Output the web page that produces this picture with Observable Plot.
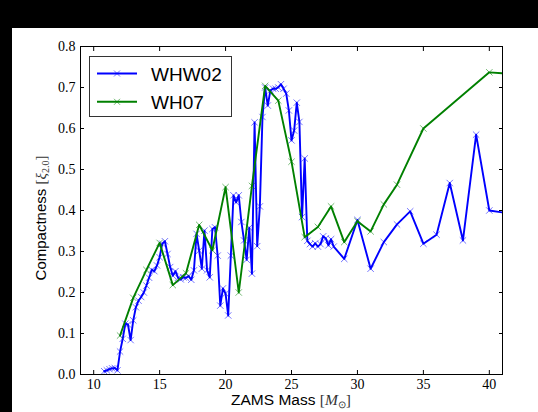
<!DOCTYPE html>
<html><head><meta charset="utf-8">
<script src="https://cdn.jsdelivr.net/npm/d3@7"></script>
<script src="https://cdn.jsdelivr.net/npm/@observablehq/plot@0.6"></script>
<style>
html,body{margin:0;padding:0;background:#000;}
#chart{position:absolute;left:0;top:0;}
</style></head><body><div id="chart"></div>
<script>
// WHW02 progenitors (ZAMS mass, compactness xi_2.0)
const whw02Mass = [10.8,11.0,11.2,11.4,11.6,11.8,12.0,12.2,12.4,12.6,12.8,13.0,13.2,13.4,13.6,13.8,14.0,14.2,14.4,14.6,14.8,
  15.0,15.2,15.4,15.6,15.8,16.0,16.2,16.4,16.6,16.8,17.0,17.2,17.4,17.6,17.8,18.0,18.2,18.4,18.6,18.8,
  19.0,19.2,19.4,19.6,19.8,20.0,20.2,20.4,20.6,20.8,21.0,21.2,21.4,21.6,21.8,22.0,22.2,22.4,22.6,22.8,
  23.0,23.2,23.4,23.6,23.8,24.0,24.2,24.4,24.6,24.8,25.0,25.2,25.4,25.6,25.8,26.0,26.2,26.4,26.6,26.8,
  27.0,27.2,27.4,27.6,27.8,28.0,28.2,29,30,31,32,33,34,35,36,37,38,39,40,45];
const whw02Xi = [0.008,0.010,0.013,0.015,0.016,0.010,0.056,0.087,0.124,0.122,0.084,0.132,0.164,0.180,0.189,0.200,0.217,0.236,0.255,0.252,0.266,
  0.286,0.319,0.325,0.294,0.262,0.241,0.252,0.236,0.232,0.237,0.236,0.240,0.231,0.254,0.343,0.302,0.258,0.351,0.254,0.237,
  0.355,0.359,0.290,0.168,0.210,0.197,0.144,0.290,0.437,0.420,0.437,0.372,0.327,0.280,0.358,0.246,0.615,0.313,0.410,0.628,
  0.700,0.656,0.693,0.697,0.697,0.700,0.708,0.697,0.685,0.644,0.571,0.595,0.663,0.616,0.384,0.527,0.326,0.318,0.312,0.320,
  0.312,0.318,0.337,0.332,0.315,0.330,0.312,0.282,0.377,0.258,0.323,0.366,0.398,0.319,0.341,0.467,0.327,0.585,0.400,0.376];
// WH07 progenitors
const wh07Mass = [12,13,14,15,16,17,18,19,20,21,22,23,24,25,26,27,28,29,30,31,32,33,35,40,45];
const wh07Xi = [0.095,0.187,0.255,0.321,0.218,0.247,0.365,0.303,0.457,0.200,0.460,0.704,0.668,0.519,0.335,0.360,0.410,0.323,0.374,0.349,0.415,0.463,0.600,0.737,0.725];

const xTicks = [10,15,20,25,30,35,40];
const yTicks = [0.0,0.1,0.2,0.3,0.4,0.5,0.6,0.7,0.8];
const seriesNames = ["WHW02","WH07"];
const seriesColors = ["#0000ff","#008000"];

const whw02 = whw02Mass.map((m,i)=>({m, xi: whw02Xi[i]}));
const wh07 = wh07Mass.map((m,i)=>({m, xi: wh07Xi[i]}));
const sets = [whw02, wh07];

const W = 538, H = 412, mL = 80, mR = 36, mT = 46, mB = 38;
const LW = 1.9, MR = 3, MW = 1, MO = 0.55;
const marks = [];
sets.forEach((data, i) => {
  marks.push(Plot.line(data, {x:"m", y:"xi", stroke: seriesColors[i], strokeWidth: LW, clip: true}));
  marks.push(Plot.dot(data, {x:"m", y:"xi", symbol:"times", r: MR, stroke: seriesColors[i], strokeWidth: MW, strokeOpacity: MO, clip: true}));
});
marks.push(
  Plot.axisX(xTicks, {anchor:"bottom", tickSize:0, tickPadding:5, label:null, tickFormat: d => String(d)}),
  Plot.axisX(xTicks, {anchor:"bottom", tickSize:-4, tickFormat: () => "", label:null}),
  Plot.axisX(xTicks, {anchor:"top", tickSize:-4, tickFormat: () => "", label:null}),
  Plot.axisY(yTicks, {anchor:"left", tickSize:0, tickPadding:5, label:null, tickFormat: d3.format(".1f")}),
  Plot.axisY(yTicks, {anchor:"left", tickSize:-4, tickFormat: () => "", label:null}),
  Plot.axisY(yTicks, {anchor:"right", tickSize:-4, tickFormat: () => "", label:null}),
  Plot.frame({stroke:"#000", strokeWidth:1})
);

const plot = Plot.plot({
  width: W, height: H, marginLeft: mL, marginRight: mR, marginTop: mT, marginBottom: mB,
  style: {background:"transparent", fontFamily:"'Liberation Serif', serif", fontSize:"14px", color:"#000", overflow:"visible"},
  x: {domain:[9,41]},
  y: {domain:[0,0.8]},
  marks
});

const svg = d3.select(plot);
svg.insert("rect", ":first-child").attr("x",12).attr("y",28).attr("width",W-12).attr("height",H-28).attr("fill","#fff");
svg.insert("rect", ":first-child").attr("x",0).attr("y",0).attr("width",W).attr("height",H).attr("fill","#000");

const sans = "'Liberation Sans', Arial, sans-serif";
const serif = "'Liberation Serif', serif";

// x label
const xl = svg.append("text").attr("x", (mL + W - mR)/2).attr("y", 405).attr("text-anchor","middle")
  .attr("font-family", sans).attr("font-size", 15.5).attr("fill","#000");
xl.append("tspan").text("ZAMS Mass ");
xl.append("tspan").attr("font-family", serif).attr("fill","#333").text("[");
xl.append("tspan").attr("font-family", serif).attr("font-style","italic").attr("fill","#333").text("M");
xl.append("tspan").attr("font-family", serif).attr("font-size", 10).attr("dy", 3).attr("fill","#333").text("⊙");
xl.append("tspan").attr("font-family", serif).attr("dy", -3).attr("fill","#333").text("]");

// y label
const yl = svg.append("text").attr("transform","translate(46,218) rotate(-90)").attr("text-anchor","middle")
  .attr("font-family", sans).attr("font-size", 15).attr("fill","#000");
yl.append("tspan").text("Compactness ");
yl.append("tspan").attr("font-family", serif).attr("fill","#333").text("[");
yl.append("tspan").attr("font-family", serif).attr("font-style","italic").attr("fill","#333").text("ξ");
yl.append("tspan").attr("font-family", serif).attr("font-size", 10).attr("dy", 3).attr("fill","#333").text("2.0");
yl.append("tspan").attr("font-family", serif).attr("dy", -3).attr("fill","#333").text("]");

// legend
const lg = svg.append("g");
lg.append("rect").attr("x",89.5).attr("y",56.5).attr("width",142).attr("height",60)
  .attr("fill","#fff").attr("stroke","#333").attr("stroke-width",1);
seriesNames.forEach((name, i) => {
  const y = 73.5 + i*28.3;
  lg.append("line").attr("x1",97).attr("x2",137).attr("y1",y).attr("y2",y)
    .attr("stroke", seriesColors[i]).attr("stroke-width",LW);
  lg.append("path").attr("d", `M${117-MR},${y-MR}L${117+MR},${y+MR}M${117-MR},${y+MR}L${117+MR},${y-MR}`)
    .attr("stroke", seriesColors[i]).attr("stroke-opacity",MO).attr("stroke-width",MW);
  lg.append("text").attr("x",151).attr("y",y+7).attr("text-anchor","start")
    .attr("font-family",sans).attr("font-size",19).attr("fill","#000").text(name);
});

document.getElementById("chart").appendChild(plot);
</script></body></html>
